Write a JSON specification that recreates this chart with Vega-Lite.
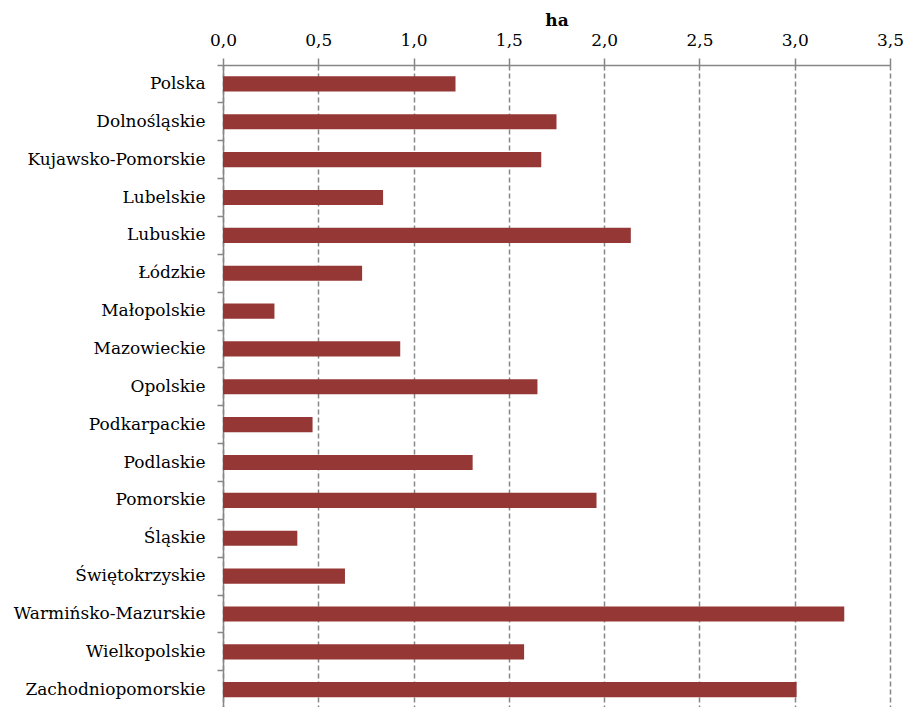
{
  "$schema": "https://vega.github.io/schema/vega-lite/v6.json",
  "autosize": "none",
  "width": 667,
  "height": 643.6,
  "padding": {"left": 223, "top": 65, "right": 16, "bottom": 0},
  "background": "white",
  "config": {
    "font": "DejaVu Serif",
    "view": {"stroke": null},
    "axis": {
      "labelFont": "DejaVu Serif",
      "titleFont": "DejaVu Serif",
      "labelFontSize": 17,
      "titleFontSize": 17,
      "labelColor": "black",
      "titleColor": "black",
      "domainColor": "#868686",
      "tickColor": "#868686",
      "domainWidth": 1.5,
      "tickWidth": 1.5,
      "labelLimit": 400
    }
  },
  "data": {
    "values": [
      {"region": "Polska", "value": 1.22},
      {"region": "Dolnośląskie", "value": 1.75},
      {"region": "Kujawsko-Pomorskie", "value": 1.67},
      {"region": "Lubelskie", "value": 0.84},
      {"region": "Lubuskie", "value": 2.14},
      {"region": "Łódzkie", "value": 0.73},
      {"region": "Małopolskie", "value": 0.27},
      {"region": "Mazowieckie", "value": 0.93},
      {"region": "Opolskie", "value": 1.65},
      {"region": "Podkarpackie", "value": 0.47},
      {"region": "Podlaskie", "value": 1.31},
      {"region": "Pomorskie", "value": 1.96},
      {"region": "Śląskie", "value": 0.39},
      {"region": "Świętokrzyskie", "value": 0.64},
      {"region": "Warmińsko-Mazurskie", "value": 3.26},
      {"region": "Wielkopolskie", "value": 1.58},
      {"region": "Zachodniopomorskie", "value": 3.01}
    ]
  },
  "mark": {"type": "bar", "color": "#953735", "height": {"band": 0.4}},
  "encoding": {
    "y": {
      "field": "region",
      "type": "nominal",
      "sort": null,
      "scale": {"paddingInner": 0, "paddingOuter": 0},
      "axis": {
        "title": null,
        "bandPosition": 0,
        "tickSize": 6,
        "labelPadding": 12,
        "labelLimit": 400,
        "grid": false
      }
    },
    "x": {
      "field": "value",
      "type": "quantitative",
      "scale": {"domain": [0, 3.5], "nice": false},
      "axis": {
        "orient": "top",
        "title": "ha",
        "titleFontWeight": "bold",
        "titlePadding": 2,
        "values": [0, 0.5, 1, 1.5, 2, 2.5, 3, 3.5],
        "labelExpr": "replace(format(datum.value, '.1f'), '.', ',')",
        "tickSize": 7,
        "labelPadding": 8,
        "grid": true,
        "gridColor": "#868686",
        "gridDash": [5, 3],
        "gridWidth": 1.5,
        "labelFlush": false
      }
    }
  }
}
